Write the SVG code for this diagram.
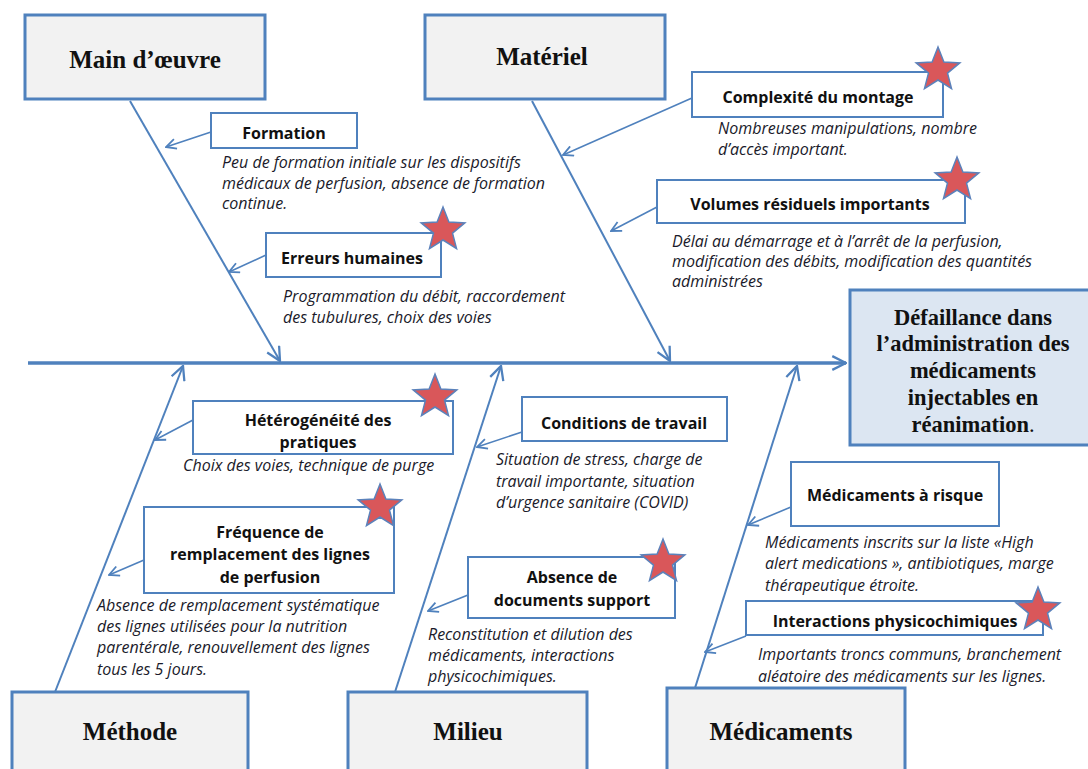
<svg xmlns="http://www.w3.org/2000/svg" width="1088" height="769" viewBox="0 0 1088 769">
<defs>
<style>
.hdr{fill:#f2f2f2;stroke:#4f81bd;stroke-width:3}
.eff{fill:#dce6f2;stroke:#4f81bd;stroke-width:3}
.sub{fill:#fff;stroke:#4f81bd;stroke-width:2}
.ht{font-family:"Liberation Serif",serif;font-weight:bold;font-size:25px;fill:#111;text-anchor:middle}
.et{font-family:"Liberation Serif",serif;font-weight:bold;font-size:22.5px;fill:#111;text-anchor:middle}
.st{font-family:"Open Sans","Liberation Sans",sans-serif;font-weight:bold;font-size:16px;fill:#111;text-anchor:middle}
.dt{font-family:"Open Sans","Liberation Sans",sans-serif;font-style:italic;font-size:16px;fill:#1a1a2a}
.bone{stroke:#4f81bd;stroke-width:2;fill:none}
.spine{stroke:#4f81bd;stroke-width:3.5;fill:none}
.arr{stroke:#4f81bd;stroke-width:1.6;fill:none}
.star{fill:#d9575a;stroke:#5b82bb;stroke-width:1.5}
</style>
<marker id="ah" viewBox="0 0 12 12" refX="11" refY="6" markerWidth="12" markerHeight="12" markerUnits="userSpaceOnUse" orient="auto">
<path d="M1,1 L11,6 L1,11" fill="none" stroke="#4f81bd" stroke-width="1.8"/>
</marker>
<marker id="ahb" viewBox="0 0 14 14" refX="13" refY="7" markerWidth="16" markerHeight="16" markerUnits="userSpaceOnUse" orient="auto">
<path d="M1,1 L13,7 L1,13" fill="none" stroke="#4f81bd" stroke-width="2"/>
</marker>
<path id="star" d="M0,-23 L5.88,-8.09 L21.87,-7.11 L9.51,3.09 L13.52,18.61 L0,10 L-13.52,18.61 L-9.51,3.09 L-21.87,-7.11 L-5.88,-8.09 Z"/>
</defs>
<rect width="1088" height="769" fill="#fff"/>

<g id="connectors">
<line class="spine" x1="28" y1="363" x2="846" y2="363" marker-end="url(#ahb)"/>
<line class="bone" x1="130" y1="101" x2="280" y2="361" marker-end="url(#ahb)"/>
<line class="bone" x1="532" y1="101" x2="670" y2="361" marker-end="url(#ahb)"/>
<line class="bone" x1="55" y1="692" x2="183" y2="366" marker-end="url(#ahb)"/>
<line class="bone" x1="395" y1="692" x2="501" y2="366" marker-end="url(#ahb)"/>
<line class="bone" x1="695" y1="688" x2="797" y2="366" marker-end="url(#ahb)"/>
<line class="arr" x1="211" y1="132" x2="166" y2="147" marker-end="url(#ah)"/>
<line class="arr" x1="266" y1="255" x2="229" y2="272" marker-end="url(#ah)"/>
<line class="arr" x1="692" y1="98" x2="563" y2="155" marker-end="url(#ah)"/>
<line class="arr" x1="657" y1="207" x2="611" y2="231" marker-end="url(#ah)"/>
<line class="arr" x1="193" y1="420" x2="155" y2="440" marker-end="url(#ah)"/>
<line class="arr" x1="144" y1="560" x2="109" y2="575" marker-end="url(#ah)"/>
<line class="arr" x1="522" y1="432" x2="477" y2="447" marker-end="url(#ah)"/>
<line class="arr" x1="468" y1="595" x2="428" y2="611" marker-end="url(#ah)"/>
<line class="arr" x1="791" y1="507" x2="748" y2="525" marker-end="url(#ah)"/>
<line class="arr" x1="746" y1="636" x2="705" y2="652" marker-end="url(#ah)"/>
</g>

<g id="main-oeuvre">
<rect class="hdr" x="25" y="15" width="240" height="84"/>
<text class="ht" x="145" y="68">Main d’œuvre</text>
</g>
<g id="materiel">
<rect class="hdr" x="425" y="15" width="240" height="84"/>
<text class="ht" x="542" y="65">Matériel</text>
</g>
<g id="effet">
<rect class="eff" x="850" y="290" width="245" height="155"/>
<text class="et" x="973" y="325">Défaillance dans</text>
<text class="et" x="973" y="351">l’administration des</text>
<text class="et" x="973" y="378">médicaments</text>
<text class="et" x="973" y="405">injectables en</text>
<text class="et" x="973" y="432">réanimation<tspan font-weight="normal">.</tspan></text>
</g>
<g id="methode">
<rect class="hdr" x="12" y="692" width="236" height="90"/>
<text class="ht" x="130" y="740">Méthode</text>
</g>
<g id="milieu">
<rect class="hdr" x="348" y="692" width="239" height="90"/>
<text class="ht" x="468" y="740">Milieu</text>
</g>
<g id="medicaments">
<rect class="hdr" x="667" y="688" width="238" height="94"/>
<text class="ht" x="781" y="740">Médicaments</text>
</g>

<g id="formation">
<rect class="sub" x="211" y="113" width="146" height="35"/>
<text class="st" x="284" y="139">Formation</text>
<text class="dt" x="222" y="168">Peu de formation initiale sur les dispositifs</text>
<text class="dt" x="222" y="189">médicaux de perfusion, absence de formation</text>
<text class="dt" x="222" y="209">continue.</text>
</g>
<g id="erreurs">
<rect class="sub" x="266" y="233" width="175" height="44"/>
<text class="st" x="352" y="264">Erreurs humaines</text>
<use href="#star" class="star" x="443" y="230"/>
<text class="dt" x="283" y="302">Programmation du débit, raccordement</text>
<text class="dt" x="283" y="323">des tubulures, choix des voies</text>
</g>
<g id="complexite">
<rect class="sub" x="692" y="72" width="251" height="45"/>
<text class="st" x="818" y="103">Complexité du montage</text>
<use href="#star" class="star" x="938" y="70"/>
<text class="dt" x="718" y="134">Nombreuses manipulations, nombre</text>
<text class="dt" x="718" y="155">d’accès important.</text>
</g>
<g id="volumes">
<rect class="sub" x="657" y="180" width="308" height="43"/>
<text class="st" x="810" y="210">Volumes résiduels importants</text>
<use href="#star" class="star" x="957" y="180"/>
<text class="dt" x="672" y="247">Délai au démarrage et à l’arrêt de la perfusion,</text>
<text class="dt" x="672" y="267">modification des débits, modification des quantités</text>
<text class="dt" x="672" y="287">administrées</text>
</g>
<g id="heterogeneite">
<rect class="sub" x="193" y="401" width="260" height="53"/>
<text class="st" x="318" y="426">Hétérogénéité des</text>
<text class="st" x="318" y="448">pratiques</text>
<use href="#star" class="star" x="435" y="397"/>
<text class="dt" x="183" y="471">Choix des voies, technique de purge</text>
</g>
<g id="frequence">
<rect class="sub" x="144" y="507" width="250" height="86"/>
<text class="st" x="270" y="538">Fréquence de</text>
<text class="st" x="270" y="560">remplacement des lignes</text>
<text class="st" x="270" y="583">de perfusion</text>
<use href="#star" class="star" x="380" y="507"/>
<text class="dt" x="97" y="611">Absence de remplacement systématique</text>
<text class="dt" x="97" y="632">des lignes utilisées pour la nutrition</text>
<text class="dt" x="97" y="653">parentérale, renouvellement des lignes</text>
<text class="dt" x="97" y="675">tous les 5 jours.</text>
</g>
<g id="conditions">
<rect class="sub" x="522" y="397" width="205" height="44"/>
<text class="st" x="624" y="429">Conditions de travail</text>
<text class="dt" x="496" y="465">Situation de stress, charge de</text>
<text class="dt" x="496" y="487">travail importante, situation</text>
<text class="dt" x="496" y="508">d’urgence sanitaire (COVID)</text>
</g>
<g id="absence">
<rect class="sub" x="468" y="557" width="207" height="61"/>
<text class="st" x="572" y="583">Absence de</text>
<text class="st" x="572" y="606">documents support</text>
<use href="#star" class="star" x="663" y="562"/>
<text class="dt" x="428" y="640">Reconstitution et dilution des</text>
<text class="dt" x="428" y="661">médicaments, interactions</text>
<text class="dt" x="428" y="682">physicochimiques.</text>
</g>
<g id="med-risque">
<rect class="sub" x="791" y="462" width="208" height="64"/>
<text class="st" x="895" y="501">Médicaments à risque</text>
<text class="dt" x="765" y="548">Médicaments inscrits sur la liste «High</text>
<text class="dt" x="765" y="569">alert medications », antibiotiques, marge</text>
<text class="dt" x="765" y="591">thérapeutique étroite.</text>
</g>
<g id="interactions">
<rect class="sub" x="746" y="601" width="297" height="34"/>
<text class="st" x="895" y="627">Interactions physicochimiques</text>
<use href="#star" class="star" x="1038" y="610"/>
<text class="dt" x="758" y="660">Importants troncs communs, branchement</text>
<text class="dt" x="758" y="682">aléatoire des médicaments sur les lignes.</text>
</g>
</svg>
